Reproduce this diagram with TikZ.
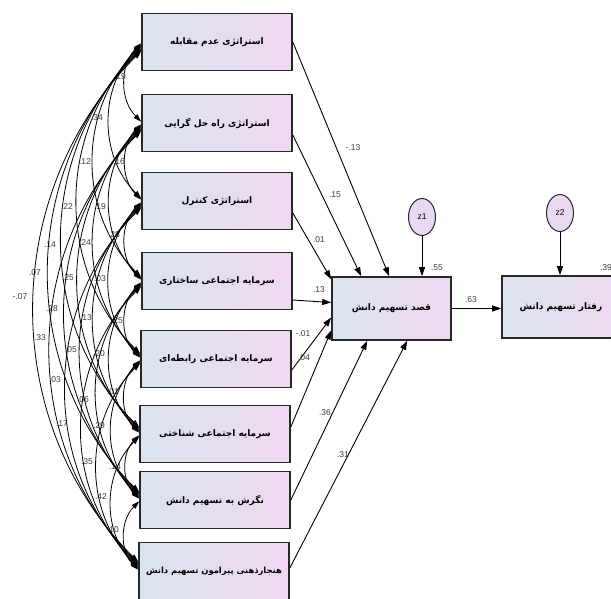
\documentclass[tikz,border=0pt]{standalone}
\usepackage{fontspec}
\setmainfont{Liberation Sans}
\newfontfamily\arabicfont[Script=Arabic]{DejaVu Sans}
\TeXXeTstate=1
\usetikzlibrary{arrows.meta,shapes.geometric,calc}
\definecolor{boxL}{RGB}{218,228,238}
\definecolor{boxR}{RGB}{240,216,242}
\definecolor{errfill}{RGB}{232,216,242}
\definecolor{edgec}{RGB}{40,40,40}
\definecolor{numc}{RGB}{60,60,60}
\def\ycs{{42,123,201,281,359,434,500,571}}
\begin{document}
\begin{tikzpicture}[x=1pt,y=-1pt,
  var/.style={draw=edgec, line width=1.6pt, left color=boxL, right color=boxR,
    minimum width=150pt, minimum height=57pt, inner sep=0pt,
    font=\arabicfont\bfseries\fontsize{9}{10}\selectfont},
  err/.style={ellipse, draw=edgec, line width=1pt, fill=errfill,
    minimum width=27pt, minimum height=37pt, inner sep=0pt,
    font=\fontsize{8.5}{9}\selectfont},
  corr/.style={line width=0.8pt, {Triangle[length=8pt,width=5pt]}-{Triangle[length=8pt,width=5pt]}},
  reg/.style={line width=0.9pt, -{Triangle[length=9pt,width=6pt]}},
  num/.style={font=\fontsize{8.5}{9}\selectfont, text=numc, inner sep=0pt},
]
\useasboundingbox (0,0) rectangle (611,598);
\fill[white] (0,0) rectangle (611,598);

\node[var] (b1) at (217,42)  {\beginR استراتژی عدم مقابله\endR};
\node[var] (b2) at (217,123) {\beginR استراتژی راه حل گرایی\endR};
\node[var] (b3) at (217,201) {\beginR استراتژی کنترل\endR};
\node[var] (b4) at (217,281) {\beginR سرمایه اجتماعی ساختاری\endR};
\node[var] (b5) at (216,359) {\beginR سرمایه اجتماعی رابطه‌ای\endR};
\node[var] (b6) at (215,434) {\beginR سرمایه اجتماعی شناختی\endR};
\node[var] (b7) at (215,500) {\beginR نگرش به تسهیم دانش\endR};
\node[var, font=\arabicfont\bfseries\fontsize{8.4}{10}\selectfont] (b8) at (214,571) {\beginR هنجارذهنی پیرامون تسهیم دانش\endR};

\node[var, minimum width=119pt, minimum height=63pt] (m) at (391.5,308.5) {\beginR قصد تسهیم دانش\endR};
\node[var, minimum width=118pt, minimum height=62pt] (r) at (561,307) {\beginR رفتار تسهیم دانش\endR};

\node[err] (z1) at (422,217) {z1};
\node[err] (z2) at (560,213) {z2};

\draw[reg] (z1) -- (z1 |- m.north);
\draw[reg] (z2) -- (z2 |- r.north);
\draw[reg] (m.east) -- (r.west |- m.east);

\draw[reg] (b1.east) -- ([xshift=58pt]m.north west);
\draw[reg] ([yshift=-12pt]b2.east) -- ([xshift=30pt]m.north west);
\draw[reg] ([yshift=-12pt]b3.east) -- ([yshift=-3pt]m.north west);
\draw[reg] ([yshift=-19pt]b4.east) -- ([yshift=6pt]m.west);
\draw[reg] ([yshift=-11pt]b5.east) -- ([yshift=-9pt]m.west);
\draw[reg] ([yshift=7pt]b6.east) -- ([yshift=-22pt]m.west);
\draw[reg] (b7.east) -- ([xshift=36pt]m.south west);
\draw[reg] ([yshift=3pt]b8.east) -- ([xshift=76pt]m.south west);

\node[num] (p1) at (353,148) {-.13};
\node[num] (p2) at (335,195) {.15};
\node[num] (p3) at (319,240) {.01};
\node[num] (p4) at (319,290) {.13};
\node[num] (p5) at (303,334) {-.01};
\node[num] (p6) at (304,358) {.04};
\node[num] (p7) at (325,413) {.36};
\node[num] (p8) at (343,455) {.31};
\node[num] (q1) at (437,268) {.55};
\node[num] (q2) at (606,268) {.39};
\node[num] (q3) at (471,300) {.63};

\foreach \i/\j/\lab/\lx/\ly in {
 1/2/.19/120/77, 2/3/.16/119/162, 3/4/.28/114/235, 4/5/.25/117/321, 5/6/.01/113/392, 6/7/.14/115/467, 7/8/.10/113/530,
 1/3/.34/97/118, 2/4/.19/100/207, 3/5/.03/100/279, 4/6/.20/99/354, 5/7/.29/99/426, 6/8/.42/101/497,
 1/4/.12/85/162, 2/5/.24/85/243, 3/6/.13/86/318, 4/7/.06/83/400, 5/8/.35/87/462,
 1/5/.22/67/207, 2/6/.25/68/278, 3/7/.05/71/350, 4/8/.17/62/424,
 1/6/.14/50/245, 2/7/.28/52/309, 3/8/.03/55/380,
 1/7/.07/35/273, 2/8/.33/40/338,
 1/8/-.07/20/297}{
  \pgfmathsetmacro\ya{\ycs[\i-1]}
  \pgfmathsetmacro\yb{\ycs[\j-1]}
  \pgfmathsetmacro\off{1.3*(\j-\i)}
  \pgfmathsetmacro\cc{0.276*(\yb-\ya-2*\off)}
  \draw[corr] ([yshift=-\off pt]b\i.west) .. controls +(-\cc,\cc) and +(-\cc,-\cc) .. ([yshift=\off pt]b\j.west);
  \node[num] (c\i\j) at (\lx,\ly) {\lab};
}
\end{tikzpicture}
\end{document}
